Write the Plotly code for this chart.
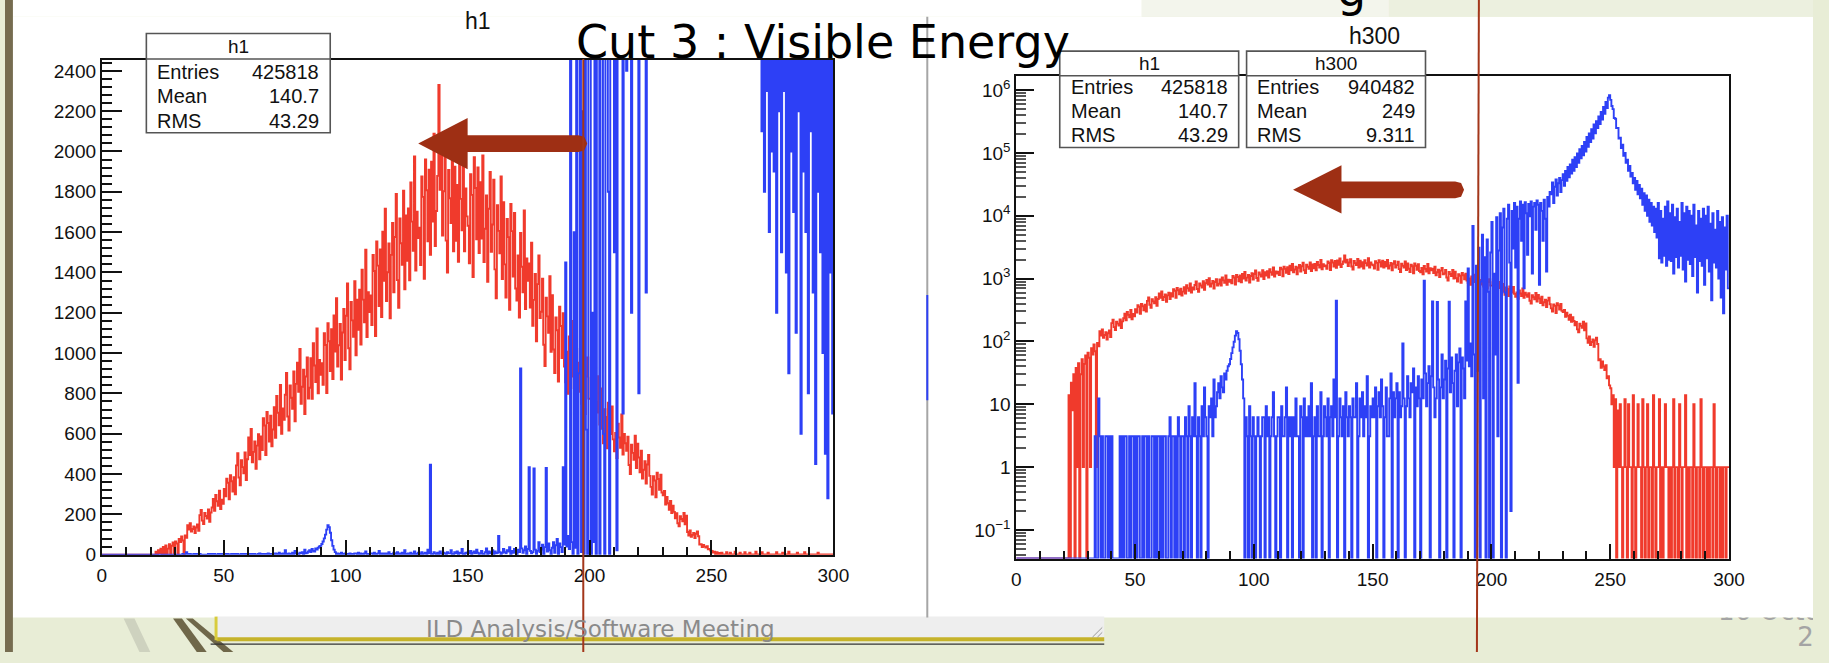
import plotly.graph_objects as go

W, H = 1829, 663

# ---------------- data (0.5-unit bins from 0 to 300) ----------------
bin_edges = [i * 0.5 for i in range(601)]

h1_counts = [
    0, 0, 0, 0, 0, 0, 0, 0, 0, 0,
    0, 0, 0, 0, 0, 0, 0, 0, 0, 0,
    0, 0, 0, 0, 0, 0, 0, 0, 0, 0,
    0, 0, 0, 0, 0, 0, 0, 0, 0, 0,
    0, 0, 0, 0, 14, 0, 22, 8, 30, 0,
    38, 1, 45, 0, 30, 52, 1, 44, 60, 0,
    66, 55, 1, 78, 62, 90, 70, 1, 95, 84,
    146, 124, 156, 114, 127, 140, 107, 135, 150, 118,
    196, 222, 169, 152, 207, 192, 179, 224, 163, 209,
    234, 276, 218, 296, 265, 242, 317, 226, 273, 252,
    326, 289, 377, 357, 275, 394, 364, 313, 384, 299,
    443, 503, 383, 344, 469, 434, 404, 507, 370, 473,
    582, 494, 624, 458, 510, 562, 426, 541, 598, 473,
    586, 519, 677, 641, 494, 708, 653, 561, 689, 537,
    621, 731, 580, 787, 704, 642, 842, 600, 725, 669,
    793, 901, 685, 616, 839, 778, 724, 909, 662, 847,
    952, 808, 1020, 748, 833, 918, 697, 884, 978, 774,
    828, 975, 773, 1049, 938, 856, 1122, 800, 966, 892,
    950, 842, 1099, 1040, 802, 1148, 1059, 911, 1119, 871,
    1187, 1007, 1272, 933, 1039, 1145, 869, 1102, 1219, 965,
    1185, 1346, 1024, 920, 1254, 1162, 1081, 1357, 989, 1265,
    1116, 1314, 1042, 1414, 1265, 1153, 1513, 1079, 1302, 1203,
    1286, 1139, 1487, 1407, 1085, 1554, 1434, 1233, 1514, 1179,
    1602, 1359, 1716, 1258, 1401, 1544, 1173, 1487, 1645, 1301,
    1576, 1790, 1362, 1224, 1668, 1545, 1438, 1805, 1316, 1683,
    1458, 1717, 1361, 1847, 1652, 1507, 1976, 1409, 1701, 1571,
    1622, 1437, 1876, 1775, 1369, 1960, 1808, 1555, 1910, 1487,
    1949, 1653, 2088, 1531, 1705, 1879, 2330, 1810, 2001, 1583,
    1803, 2048, 1558, 1400, 1908, 1768, 1645, 2065, 1505, 1925,
    1557, 1834, 1453, 1972, 1765, 1609, 2111, 1505, 1817, 1678,
    1632, 1445, 1887, 1785, 1377, 1972, 1819, 1564, 1921, 1496,
    1848, 1568, 1980, 1452, 1617, 1782, 1353, 1716, 1898, 1502,
    1638, 1860, 1415, 1272, 1733, 1606, 1495, 1876, 1367, 1749,
    1440, 1275, 1665, 1575, 1215, 1740, 1605, 1380, 1695, 1320,
    1260, 1484, 1176, 1596, 1428, 1302, 1708, 1218, 1470, 1358,
    1445, 1226, 1548, 1135, 1264, 1393, 1058, 1342, 1484, 1174,
    1205, 1369, 1041, 936, 1275, 1182, 1100, 1381, 1006, 1287,
    1018, 901, 1177, 1113, 859, 1230, 1134, 975, 1198, 933,
    855, 1007, 798, 1083, 969, 884, 1159, 827, 998, 922,
    952, 808, 1020, 748, 833, 918, 697, 884, 978, 774,
    773, 878, 668, 600, 818, 758, 705, 885, 645, 825,
    624, 553, 722, 683, 527, 754, 696, 598, 735, 572,
    513, 604, 479, 650, 581, 530, 695, 496, 599, 553,
    515, 585, 445, 400, 545, 505, 470, 590, 430, 550,
    482, 409, 516, 378, 421, 464, 353, 447, 495, 391,
    336, 298, 389, 368, 284, 406, 375, 322, 396, 308,
    294, 316, 248, 286, 255, 222, 267, 206, 243, 212,
    180, 205, 156, 140, 191, 177, 165, 207, 151, 193,
    112, 95, 120, 88, 98, 108, 82, 104, 115, 91,
    50, 52, 38, 48, 40, 35, 42, 26, 28, 20,
    18, 10, 14, 1, 12, 0, 8, 1, 10, 1,
    0, 1, 12, 1, 0, 10, 1, 1, 0, 14,
    1, 0, 1, 10, 1, 1, 0, 12, 1, 0,
    1, 10, 0, 1, 1, 0, 14, 1, 0, 1,
    1, 12, 0, 1, 0, 1, 10, 1, 1, 0,
    1, 0, 1, 12, 0, 1, 1, 0, 10, 1,
    0, 1, 1, 14, 0, 1, 0, 1, 1, 0,
    10, 1, 0, 1, 1, 0, 12, 1, 0, 1,
    1, 0, 1, 0, 1, 1, 0, 10, 1, 0,
    1, 1, 0, 1, 0, 1, 1, 0, 1, 1,
]

h300_counts = [
    0, 0, 0, 0, 0, 0, 0, 0, 0, 0,
    0, 0, 0, 0, 0, 0, 0, 0, 0, 0,
    0, 0, 0, 0, 0, 0, 0, 0, 0, 0,
    0, 0, 0, 0, 0, 0, 0, 0, 0, 0,
    0, 0, 0, 0, 0, 0, 0, 0, 0, 0,
    0, 0, 0, 0, 0, 0, 0, 0, 0, 0,
    0, 0, 0, 0, 0, 0, 3.1, 0, 0, 12.4,
    3.1, 0, 3.1, 0, 0, 3.1, 3.1, 0, 3.1, 0,
    3.1, 0, 0, 0, 0, 0, 0, 3.1, 0, 3.1,
    0, 3.1, 3.1, 0, 0, 3.1, 0, 3.1, 3.1, 0,
    3.1, 0, 3.1, 3.1, 0, 0, 3.1, 0, 3.1, 3.1,
    0, 3.1, 0, 0, 3.1, 3.1, 0, 3.1, 0, 3.1,
    3.1, 0, 3.1, 0, 3.1, 3.1, 0, 0, 3.1, 6.2,
    0, 3.1, 3.1, 0, 3.1, 0, 6.2, 3.1, 0, 3.1,
    3.1, 0, 6.2, 3.1, 0, 9.3, 3.1, 0, 6.2, 3.1,
    21.7, 3.1, 0, 6.2, 3.1, 0, 9.3, 3.1, 18.6, 6.2,
    3.1, 0, 9.3, 6.2, 12.4, 3.1, 24.8, 6.2, 9.3, 15.5,
    21.7, 12.4, 27.9, 18.6, 15.5, 31, 24.8, 34.1, 40.3, 43.4,
    52.7, 65.1, 80.6, 99.2, 124, 145.7, 136.4, 108.5, 71.3, 43.4,
    24.8, 12.4, 0, 6.2, 3.1, 0, 9.3, 3.1, 0, 6.2,
    3.1, 0, 3.1, 6.2, 3.1, 0, 3.1, 6.2, 6.2, 0,
    9.3, 3.1, 6.2, 0, 3.1, 6.2, 15.5, 3.1, 0, 3.1,
    6.2, 6.2, 0, 9.3, 3.1, 3.1, 6.2, 18.6, 0, 6.2,
    3.1, 6.2, 0, 6.2, 3.1, 12.4, 3.1, 3.1, 0, 9.3,
    6.2, 0, 12.4, 3.1, 6.2, 3.1, 9.3, 3.1, 21.7, 0,
    3.1, 6.2, 0, 9.3, 3.1, 3.1, 15.5, 0, 3.1, 9.3,
    6.2, 3.1, 12.4, 0, 6.2, 9.3, 3.1, 24.8, 6.2, 446.4,
    0, 3.1, 12.4, 6.2, 3.1, 9.3, 0, 15.5, 6.2, 3.1,
    9.3, 6.2, 0, 12.4, 6.2, 6.2, 21.7, 0, 3.1, 12.4,
    6.2, 15.5, 3.1, 9.3, 6.2, 27.9, 0, 3.1, 9.3, 6.2,
    12.4, 6.2, 18.6, 0, 9.3, 15.5, 6.2, 24.8, 9.3, 0,
    6.2, 18.6, 3.1, 3.1, 12.4, 31, 0, 15.5, 6.2, 12.4,
    21.7, 0, 15.5, 6.2, 9.3, 93, 12.4, 0, 9.3, 27.9,
    12.4, 6.2, 21.7, 15.5, 37.2, 0, 18.6, 9.3, 27.9, 12.4,
    0, 24.8, 12.4, 924, 31, 9.3, 21.7, 40.3, 0, 27.9,
    434, 18.6, 6.2, 12.4, 427, 24.8, 0, 18.6, 62, 12.4,
    24.8, 49.6, 0, 37.2, 430, 15.5, 55.8, 21.7, 0, 34.1,
    62, 9.3, 46.5, 77.5, 0, 55.8, 37.2, 12.4, 434, 49.6,
    1450, 40.3, 93, 27.9, 6900, 62, 0, 1600, 34.1, 3100,
    0, 900, 5000, 12.4, 2200, 0, 4200, 620, 0, 2600,
    8000, 0, 1200, 62, 9500, 3.1, 2800, 11000, 0, 6500,
    13000, 600, 0, 9000, 15000, 1800, 0.2, 12000, 3000, 16000,
    1500, 14000, 22, 9000, 17000, 4000, 15000, 700, 16500, 11000,
    2400, 15500, 9800, 17000, 1200, 14000, 16000, 6000, 17500, 15000,
    800, 16000, 12000, 4000, 18000, 9000, 1300, 20000, 14000, 24000,
    22000, 34000, 16000, 29000, 38000, 21000, 33000, 40000, 24000, 37000,
    46000, 30000, 52000, 36000, 60000, 41000, 66000, 47000, 78000, 52000,
    86000, 60000, 98000, 70000, 115000, 82000, 130000, 92000, 150000, 105000,
    180000, 125000, 205000, 150000, 240000, 170000, 285000, 205000, 320000, 250000,
    380000, 290000, 450000, 340000, 540000, 420000, 650000, 520000, 760000, 830000,
    700000, 560000, 500000, 360000, 350000, 250000, 250000, 170000, 175000, 120000,
    135000, 90000, 100000, 70000, 78000, 52000, 62000, 42000, 48000, 33000,
    40000, 26000, 36000, 22000, 31000, 19000, 27000, 15000, 23000, 12000,
    21000, 10000, 18000, 8000, 16000, 7000, 14000, 5500, 13000, 4500,
    16000, 2100, 12000, 1800, 9000, 2300, 14000, 1600, 17000, 2000,
    11000, 1900, 15000, 1200, 9500, 2200, 13000, 1500, 8000, 2300,
    16000, 1400, 11000, 900, 14000, 2000, 12000, 1700, 10000, 1100,
    15000, 2200, 7000, 600, 12000, 1900, 9000, 1600, 13000, 800,
    10000, 2100, 14000, 1300, 7500, 450, 11000, 1800, 6000, 1500,
    12000, 1000, 8000, 500, 9500, 280, 6500, 1400, 10000, 700,
]

assert len(h1_counts) == 600 and len(h300_counts) == 600

x_tick_vals = [0, 50, 100, 150, 200, 250, 300]
log_tick_vals = [0.1, 1, 10, 100, 1000, 10000, 100000, 1000000]
log_tick_text = ["10<sup>\u22121</sup>", "1", "10", "10<sup>2</sup>", "10<sup>3</sup>",
                 "10<sup>4</sup>", "10<sup>5</sup>", "10<sup>6</sup>"]

stats_h1 = [("Entries", "425818"), ("Mean", "140.7"), ("RMS", "43.29")]
stats_h300 = [("Entries", "940482"), ("Mean", "249"), ("RMS", "9.311")]

slide_title = "Cut 3 : Visible Energy"
footer_text = "ILD Analysis/Software Meeting"
date_lines = ["16 October", "2015"]

# ---------------- styling ----------------
RED = "#f03a2c"
BLUE = "#2d40f6"
BROWN = "#9e2f14"
ROOTFONT = "Liberation Sans, Arial, sans-serif"
SLIDEFONT = "DejaVu Sans, Open Sans, sans-serif"
LOG_MIN, LOG_MAX = 0.035, 1.7e6


def px(x):
    return x / W


def py(y):
    return 1 - y / H


fig = go.Figure()

step_h1 = h1_counts + [h1_counts[-1]]
step_h300 = h300_counts + [h300_counts[-1]]
log_h1 = [v if v > 0 else LOG_MIN for v in step_h1]
log_h300 = [v if v > 0 else LOG_MIN for v in step_h300]

for ys, col, xa, ya in [(step_h1, RED, "x", "y"), (step_h300, BLUE, "x", "y"),
                        (log_h1, RED, "x2", "y2"), (log_h300, BLUE, "x2", "y2")]:
    fig.add_trace(go.Scatter(x=bin_edges, y=ys, mode="lines",
                             line=dict(color=col, width=1.9, shape="hv"),
                             xaxis=xa, yaxis=ya, hoverinfo="skip", showlegend=False))

# date text in the slide corner, clipped by its own invisible axes
fig.add_trace(go.Scatter(x=[1733, 1813], y=[624, 650], mode="text",
                         text=date_lines, textposition="middle right",
                         textfont=dict(family=SLIDEFONT, size=26, color="#a4a4a4"),
                         cliponaxis=True, xaxis="x3", yaxis="y3",
                         hoverinfo="skip", showlegend=False))

axis_common = dict(showline=True, linecolor="#111", linewidth=2, mirror=True,
                   showgrid=False, zeroline=False, ticks="inside", tickcolor="#111",
                   tickwidth=1.5, tickfont=dict(family=ROOTFONT, size=19, color="#111"))

fig.update_layout(
    width=W, height=H, autosize=False,
    margin=dict(l=0, r=0, t=0, b=0, pad=0),
    paper_bgcolor="#e8edd6", plot_bgcolor="rgba(0,0,0,0)",
    xaxis=dict(domain=[px(98), px(838)], range=[0, 300], anchor="y",
               tickmode="array", tickvals=x_tick_vals, ticklen=15, ticklabelstandoff=3,
               minor=dict(dtick=10, tick0=0, ticks="inside", ticklen=8, tickcolor="#111", tickwidth=1.5),
               **axis_common),
    yaxis=dict(domain=[py(564), py(61)], range=[0, 2454], anchor="x",
               dtick=200, tick0=0, ticklen=20,
               minor=dict(dtick=40, tick0=0, ticks="inside", ticklen=10, tickcolor="#111", tickwidth=1.5),
               **axis_common),
    xaxis2=dict(domain=[px(1023), px(1744)], range=[0, 300], anchor="y2",
                tickmode="array", tickvals=x_tick_vals, ticklen=15, ticklabelstandoff=3,
                minor=dict(dtick=10, tick0=0, ticks="inside", ticklen=8, tickcolor="#111", tickwidth=1.5),
                **axis_common),
    yaxis2=dict(domain=[py(568), py(77)], type="log", anchor="x2",
                range=[-1.456, 6.23], tickmode="array", tickvals=log_tick_vals,
                ticktext=log_tick_text, ticklen=18,
                minor=dict(tickmode="array",
                           tickvals=[k * 10 ** e for e in range(-2, 7) for k in range(2, 10)],
                           ticks="inside", ticklen=10, tickcolor="#555", tickwidth=1.5),
                **axis_common),
    xaxis3=dict(domain=[px(1700), 1.0], range=[1700, 1829], visible=False, anchor="y3"),
    yaxis3=dict(domain=[0, py(628)], range=[663, 628], visible=False, anchor="x3"),
)

shapes = []


def rect(x0, y0, x1, y1, fill, layer="below", line=None):
    shapes.append(dict(type="rect", xref="paper", yref="paper",
                       x0=px(x0), x1=px(x1), y0=py(y1), y1=py(y0),
                       fillcolor=fill, layer=layer,
                       line=line if line else dict(width=0)))


def seg(x0, y0, x1, y1, color, width, layer="below"):
    shapes.append(dict(type="line", xref="paper", yref="paper",
                       x0=px(x0), x1=px(x1), y0=py(y0), y1=py(y1),
                       line=dict(color=color, width=width), layer=layer))


def poly(pts, fill, layer="below"):
    d = "M " + " L ".join(f"{px(a):.5f},{py(b):.5f}" for a, b in pts) + " Z"
    shapes.append(dict(type="path", xref="paper", yref="paper", path=d,
                       fillcolor=fill, line=dict(width=0), layer=layer))


# slide background pieces / screenshots
rect(8, 17, 1829, 628, "white")
rect(8, 0, 1150, 17, "white")
rect(1150, 0, 1400, 17, "#f3f5ec")
rect(1400, 0, 1829, 17, "#ecf0df")
rect(0, 0, 8, 663, "#766c50")
poly([(120, 629), (131, 629), (147, 663), (136, 663)], "#ced2bf")
poly([(170, 629), (179, 629), (204, 663), (194, 663)], "#6f6749")
poly([(183, 629), (190, 629), (231, 663), (221, 663)], "#6f6749")
# footer box
rect(214, 627, 1112, 650, "#eeeeee")
rect(214, 648, 1112, 652, "#c6b32b")
rect(212, 627, 215, 651, "#d8cc3c")
seg(208, 655, 1112, 655, "#333", 1.2)
seg(1100, 648, 1110, 638, "#999", 1)
seg(1105, 648, 1110, 643, "#999", 1)
# divider between the two screenshots
seg(933, 17, 933, 628, "#a6a6a6", 2)
seg(933, 300, 933, 407, BLUE, 2)

# stats boxes
for (x0, y0, x1, y1, ydiv) in [(143, 34, 329, 135, 60), (1067, 52, 1248, 150, 77), (1256, 52, 1437, 150, 77)]:
    rect(x0, y0, x1, y1, "white", layer="above", line=dict(color="#555", width=1.6))
    seg(x0, ydiv, x1, ydiv, "#555", 1.4, layer="above")

# arrows
poly([(418, 146), (468, 120), (468, 137.5), (580, 137.5), (586, 139), (589, 146),
      (586, 153), (580, 154.5), (468, 154.5), (468, 172)], BROWN, layer="above")
poly([(1303, 193), (1352, 168), (1352, 184.5), (1467, 184.5), (1473, 186), (1476, 193),
      (1473, 200), (1467, 201.5), (1352, 201.5), (1352, 217)], BROWN, layer="above")
# cut lines
seg(585, 60, 585, 663, "#a3361a", 2, layer="above")
seg(1491, 0, 1489, 663, "#a3361a", 2, layer="above")

fig.update_layout(shapes=shapes)

ann = []


def text(x, y, s, size, family=ROOTFONT, color="#111", xanchor="center", yanchor="middle"):
    ann.append(dict(x=px(x), y=py(y), xref="paper", yref="paper", text=s, showarrow=False,
                    xanchor=xanchor, yanchor=yanchor,
                    font=dict(family=family, size=size, color=color)))


text(478, 21, "h1", 23)
text(1385, 37, "h300", 23)

for title, rows, (bx0, bx1, yh, ys) in [("h1", stats_h1, (143, 329, 47, [73, 98, 123])),
                                        ("h1", stats_h1, (1067, 1248, 65, [88, 113, 137])),
                                        ("h300", stats_h300, (1256, 1437, 65, [88, 113, 137]))]:
    text((bx0 + bx1) / 2, yh, title, 19)
    for (lab, val), yy in zip(rows, ys):
        text(bx0 + 9, yy, lab, 20, xanchor="left")
        text(bx1 - 9, yy, val, 20, xanchor="right")

text(828, 43, slide_title, 46, family=SLIDEFONT, color="#000")
text(1362, -10, "g", 46, family=SLIDEFONT, color="#000")
text(602, 640, footer_text, 23, family=SLIDEFONT, color="#8a8a8a")

fig.update_layout(annotations=ann)

fig.write_html("out.html", config={"displayModeBar": False},
               post_script="document.body.style.margin='0';document.body.style.padding='0';"
                           "document.body.style.overflow='hidden';")
